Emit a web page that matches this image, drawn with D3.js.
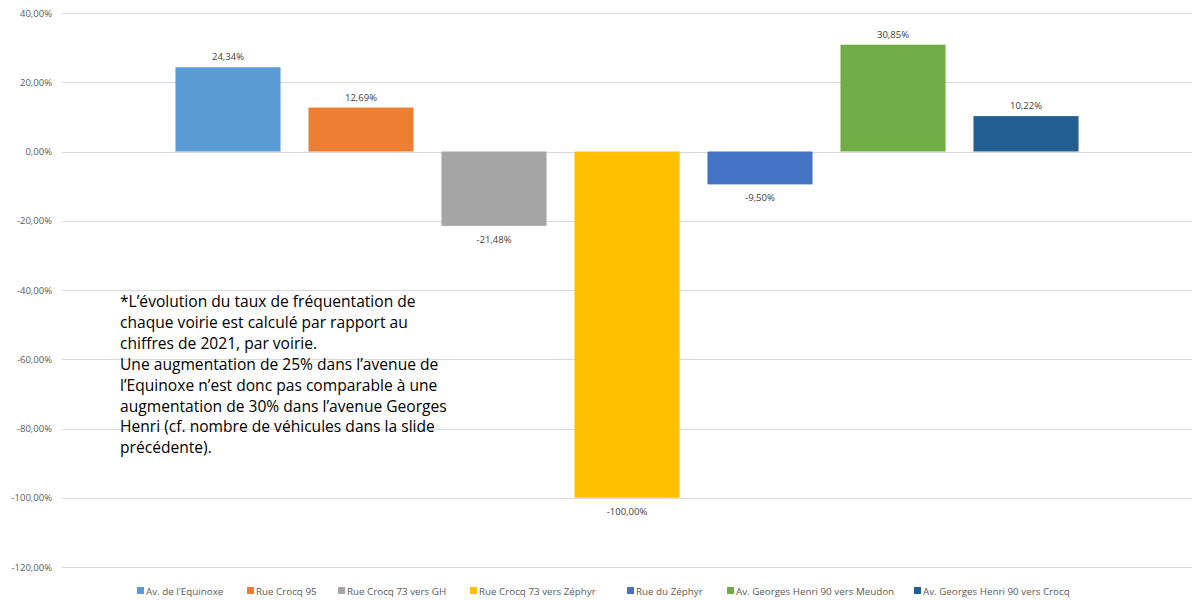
<!DOCTYPE html>
<html>
<head>
<meta charset="utf-8">
<script src="https://cdn.jsdelivr.net/npm/d3@7"></script>
<style>
  body { margin: 0; background: #fff; }
  text { font-family: "Open Sans", "Noto Sans", sans-serif; }
</style>
</head>
<body>
<svg width="1192" height="601"></svg>
<script>
// series (one bar each)
var series = ["Av. de l'Equinoxe", "Rue Crocq 95", "Rue Crocq 73 vers GH", "Rue Crocq 73 vers Zéphyr",
              "Rue du Zéphyr", "Av. Georges Henri 90 vers Meudon", "Av. Georges Henri 90 vers Crocq"];
var values = [24.34, 12.69, -21.48, -100.00, -9.50, 30.85, 10.22];
var colors = ["#5B9BD5", "#ED7D31", "#A5A5A5", "#FFC000", "#4472C4", "#70AD47", "#255E91"];
var yTicks = [40, 20, 0, -20, -40, -60, -80, -100, -120];
var note = [
  "*L\u2019évolution du taux de fréquentation de",
  "chaque voirie est calculé par rapport au",
  "chiffres de 2021, par voirie.",
  "Une augmentation de 25% dans l\u2019avenue de",
  "l\u2019Equinoxe n\u2019est donc pas comparable à une",
  "augmentation de 30% dans l\u2019avenue Georges",
  "Henri (cf. nombre de véhicules dans la slide",
  "précédente)."
];
var legendX = [131, 241, 332, 464, 621, 721, 908];

function main() {
    var svg = d3.select("svg");
    var left = 62, right = 1192;

    var fmt = function(v) { return d3.format(".2f")(v).replace(".", ",").replace("\u2212", "-") + "%"; };

    var y = d3.scaleLinear()
        .domain([-120, 40])
        .range([567, 13]);

    var x = d3.scaleBand()
        .domain(series)
        .range([left, right])
        .paddingInner(0.21)
        .paddingOuter(0.853);

    // grid lines
    svg.append("g")
        .selectAll("line")
        .data(yTicks)
        .enter().append("line")
        .attr("x1", left)
        .attr("x2", right)
        .attr("y1", function(d) { return Math.round(y(d)) + 0.5; })
        .attr("y2", function(d) { return Math.round(y(d)) + 0.5; })
        .attr("stroke", "#d9d9d9")
        .attr("stroke-width", 1);

    // y axis labels
    var yAxis = svg.append("g")
        .attr("transform", "translate(" + (left - 10) + ",0)")
        .call(d3.axisLeft(y).tickValues(yTicks).tickSize(0).tickFormat(fmt));
    yAxis.select(".domain").remove();
    yAxis.selectAll("text")
        .attr("fill", "#595959")
        .attr("font-size", "9.5px")
        .attr("x", 0);

    // bars
    svg.append("g")
        .selectAll("rect")
        .data(values)
        .enter().append("rect")
        .attr("x", function(d, i) { return x(series[i]); })
        .attr("y", function(d) { return y(Math.max(0, d)); })
        .attr("width", x.bandwidth())
        .attr("height", function(d) { return Math.abs(y(d) - y(0)); })
        .attr("fill", function(d, i) { return colors[i]; });

    // value labels
    svg.append("g")
        .selectAll("text")
        .data(values)
        .enter().append("text")
        .attr("x", function(d, i) { return x(series[i]) + x.bandwidth() / 2; })
        .attr("y", function(d) { return d >= 0 ? y(d) - 7 : y(d) + 17; })
        .attr("text-anchor", "middle")
        .attr("font-size", "9.5px")
        .attr("fill", "#404040")
        .text(fmt);

    // note text
    svg.append("g")
        .selectAll("text")
        .data(note)
        .enter().append("text")
        .attr("x", 120)
        .attr("y", function(d, i) { return 307 + i * 20.9; })
        .attr("font-size", "15.6px")
        .attr("fill", "#000")
        .text(function(d) { return d; });

    // legend
    var leg = svg.append("g")
        .selectAll("g")
        .data(series)
        .enter().append("g")
        .attr("transform", function(d, i) { return "translate(" + legendX[i] + ",591)"; });
    leg.append("rect")
        .attr("x", 6)
        .attr("y", -4)
        .attr("width", 7)
        .attr("height", 7)
        .attr("fill", function(d, i) { return colors[i]; });
    leg.append("text")
        .attr("x", 15)
        .attr("y", 3.5)
        .attr("font-size", "9.8px")
        .attr("fill", "#595959")
        .text(function(d) { return d; });
}
main();
</script>
</body>
</html>
